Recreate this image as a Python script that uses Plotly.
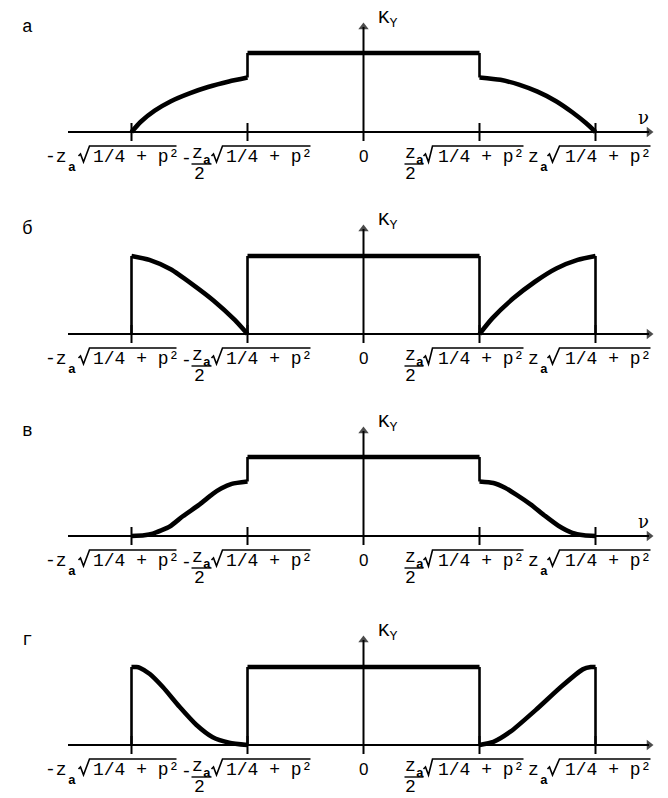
import plotly.graph_objects as go

# ---------------------------------------------------------------------------
# Data: frequency ν in units of z_a·sqrt(1/4 + p²), transfer coefficient K_Y
# normalised to the flat central level.
# ---------------------------------------------------------------------------
NU_TICKS = [-1.0, -0.5, 0.0, 0.5, 1.0]
K_TOP = 1.0
PANEL_LETTERS = ["а", "б", "в", "г"]

# а — convex shoulders with a step at ±0.5
A_LEFT_NU = [-1.0, -0.96, -0.90, -0.83, -0.75, -0.67, -0.58, -0.5]
A_LEFT_K = [0.0, 0.13, 0.27, 0.39, 0.49, 0.57, 0.64, 0.69]
A_RIGHT_NU = [0.5, 0.59, 0.67, 0.75, 0.83, 0.90, 0.96, 1.0]
A_RIGHT_K = [0.69, 0.66, 0.60, 0.51, 0.39, 0.25, 0.11, 0.0]

# б — inverted side lobes
B_LEFT_NU = [-1.0, -0.923, -0.831, -0.739, -0.647, -0.555, -0.5]
B_LEFT_K = [1.0, 0.95, 0.83, 0.64, 0.43, 0.18, 0.0]
B_RIGHT_NU = [0.5, 0.555, 0.647, 0.739, 0.831, 0.923, 1.0]
B_RIGHT_K = [0.0, 0.20, 0.46, 0.67, 0.84, 0.95, 1.0]

# в — S-shaped shoulders with a step at ±0.5
C_LEFT_NU = [-1.0, -0.945, -0.908, -0.835, -0.779, -0.706, -0.651, -0.614, -0.568, -0.5]
C_LEFT_K = [0.0, 0.01, 0.03, 0.12, 0.25, 0.40, 0.53, 0.60, 0.66, 0.69]
C_RIGHT_NU = [0.5, 0.56, 0.61, 0.66, 0.72, 0.78, 0.84, 0.90, 0.95, 1.0]
C_RIGHT_K = [0.69, 0.67, 0.61, 0.52, 0.40, 0.26, 0.13, 0.04, 0.01, 0.0]

# г — S-shaped inverted side lobes
D_LEFT_NU = [-1.0, -0.979, -0.964, -0.921, -0.864, -0.793, -0.721, -0.65, -0.579, -0.5]
D_LEFT_K = [1.0, 1.0, 0.99, 0.91, 0.74, 0.49, 0.26, 0.10, 0.03, 0.0]
D_RIGHT_NU = [0.5, 0.56, 0.633, 0.743, 0.853, 0.945, 0.98, 1.0]
D_RIGHT_K = [0.0, 0.04, 0.17, 0.45, 0.75, 0.97, 1.0, 1.0]

PANELS = [
    (A_LEFT_NU, A_LEFT_K, A_RIGHT_NU, A_RIGHT_K),
    (B_LEFT_NU, B_LEFT_K, B_RIGHT_NU, B_RIGHT_K),
    (C_LEFT_NU, C_LEFT_K, C_RIGHT_NU, C_RIGHT_K),
    (D_LEFT_NU, D_LEFT_K, D_RIGHT_NU, D_RIGHT_K),
]
SHOW_NU_LABEL = [True, False, True, False]

# ---------------------------------------------------------------------------
# Page geometry
# ---------------------------------------------------------------------------
W, H = 668, 798
NU0_PX, UX = 363.5, 232.0          # pixel of ν = 0, pixels per ν unit
AXIS_PX = [132, 334, 536, 745]       # pixel row of each ν axis
UNIT_PX = [79, 78, 79, 78]           # pixels per K unit
BANDS = [(0, 200), (200, 400), (400, 600), (600, 798)]
NU_RANGE = [-NU0_PX / UX, (W - NU0_PX) / UX]
AXIS_START_PX, AXIS_END_PX = 68, 649
ARROW_UP_PX = 105

FONT = "Liberation Mono, DejaVu Sans Mono, monospace"
THICK, THIN, AXW = 4.6, 2.6, 2.0

# tick-label layout: offsets in pixels from the tick (dx) and below the axis (dy)
RADICAND = "1/4 + p²"
LABEL_LAYOUT = {
    -1.0: dict(texts=[("-z", -63, 25, "right", 18), ("<b>a</b>", -60, 35, "center", 13),
                      (RADICAND, -41, 25, "left", 18)],
               rad=(-53, -42, 45), bar=None),
    -0.5: dict(texts=[("-", -61, 27, "center", 18), ("z", -50, 21, "center", 18),
                      ("<b>a</b>", -41, 28, "center", 13), ("2", -48, 42, "center", 18),
                      (RADICAND, -24, 25, "left", 18)],
               rad=(-36, -25, 63), bar=(-56, -36)),
    0.5: dict(texts=[("z", -69, 21, "center", 18), ("<b>a</b>", -60, 28, "center", 13),
                     ("2", -69, 42, "center", 18), (RADICAND, -44, 25, "left", 18)],
              rad=(-56, -47, 44), bar=(-75, -56)),
    1.0: dict(texts=[("z", -55, 25, "right", 18), ("<b>a</b>", -52, 35, "center", 13),
                     (RADICAND, -33, 25, "left", 18)],
              rad=(-48, -36, 55), bar=None),
}

fig = go.Figure()
annotations, shapes = [], []


def line_trace(xs, ys, width, xa, ya, spline=False):
    return go.Scatter(
        x=xs, y=ys, mode="lines", xaxis=xa, yaxis=ya, showlegend=False,
        hoverinfo="skip",
        line=dict(color="black", width=width,
                  shape="spline" if spline else "linear", smoothing=0.6),
    )


def arrow_trace(xs, ys, symbol, xa, ya):
    # axis line ending in a filled triangular head
    return go.Scatter(
        x=xs, y=ys, mode="lines+markers", xaxis=xa, yaxis=ya, showlegend=False,
        hoverinfo="skip", line=dict(color="black", width=AXW),
        marker=dict(symbol=symbol, size=[0, 9], color="black",
                    line=dict(width=0)),
    )


for i, (lnu, lk, rnu, rk) in enumerate(PANELS):
    s = "" if i == 0 else str(i + 1)
    xa, ya = "x" + s, "y" + s
    a_px, u = AXIS_PX[i], UNIT_PX[i]
    p0, p1 = BANDS[i]

    fig.layout["xaxis" + s] = dict(domain=[0, 1], range=NU_RANGE, visible=False,
                                   anchor=ya, fixedrange=True)
    fig.layout["yaxis" + s] = dict(domain=[1 - p1 / H, 1 - p0 / H],
                                   range=[(a_px - p1) / u, (a_px - p0) / u],
                                   visible=False, anchor=xa, fixedrange=True)

    def kpx(dy):  # pixels below the axis -> K units
        return -dy / u

    # ν and K axes with arrows
    fig.add_trace(arrow_trace([(AXIS_START_PX - NU0_PX) / UX, (AXIS_END_PX - NU0_PX) / UX],
                              [0, 0], "triangle-right", xa, ya))
    fig.add_trace(arrow_trace([0, 0], [kpx(9), ARROW_UP_PX / u], "triangle-up", xa, ya))

    # ticks
    for t in NU_TICKS:
        if t == 0:
            continue
        shapes.append(dict(type="line", xref=xa, yref=ya, x0=t, x1=t,
                           y0=kpx(9), y1=kpx(-9),
                           line=dict(color="black", width=AXW)))

    # response curve
    fig.add_trace(line_trace(lnu, lk, THICK, xa, ya, spline=True))
    fig.add_trace(line_trace(rnu, rk, THICK, xa, ya, spline=True))
    fig.add_trace(line_trace([lnu[-1], rnu[0]], [K_TOP, K_TOP], THICK, xa, ya))
    # vertical edges joining the pieces
    for xv, kv in [(lnu[0], lk[0]), (rnu[-1], rk[-1])]:
        if kv > 0:
            fig.add_trace(line_trace([xv, xv], [0, kv], THIN, xa, ya))
    for xv, kv in [(lnu[-1], lk[-1]), (rnu[0], rk[0])]:
        if kv < K_TOP:
            fig.add_trace(line_trace([xv, xv], [kv, K_TOP], THIN, xa, ya))

    # axis captions
    annotations.append(dict(xref=xa, yref=ya, x=0, y=0, xshift=12, yshift=113,
                            xanchor="left", yanchor="middle", showarrow=False,
                            text="K<sub>Y</sub>",
                            font=dict(family=FONT, size=19, color="black")))
    if SHOW_NU_LABEL[i]:
        annotations.append(dict(xref=xa, yref=ya, x=(643 - NU0_PX) / UX, y=0,
                                yshift=15, xanchor="center", yanchor="middle",
                                showarrow=False, text="ν",
                                font=dict(family="DejaVu Serif", size=18,
                                          color="black")))
    annotations.append(dict(xref="paper", yref=ya, x=27 / W, y=0, yshift=105,
                            xanchor="center", yanchor="middle", showarrow=False,
                            text=PANEL_LETTERS[i],
                            font=dict(family=FONT, size=18, color="black")))

    # tick labels
    annotations.append(dict(xref=xa, yref=ya, x=0, y=0, yshift=-24,
                            xanchor="center", yanchor="middle", showarrow=False,
                            text="0",
                            font=dict(family="Liberation Sans", size=17, color="black")))
    for t, spec in LABEL_LAYOUT.items():
        for txt, dx, dy, anc, size in spec["texts"]:
            annotations.append(dict(xref=xa, yref=ya, x=t, y=0, xshift=dx,
                                    yshift=-dy, xanchor=anc, yanchor="middle",
                                    showarrow=False, text=txt,
                                    font=dict(family=FONT, size=size,
                                              color="black")))
        rs, re, oe = spec["rad"]
        pts = [(rs, 24), (rs + 2, 22), (rs + 5, 30), (re, 14), (oe, 14)]
        path = "M " + " L ".join(f"{t + dx / UX:.5f},{kpx(dy):.5f}" for dx, dy in pts)
        shapes.append(dict(type="path", xref=xa, yref=ya, path=path,
                           line=dict(color="black", width=1.6)))
        if spec["bar"]:
            b0, b1 = spec["bar"]
            shapes.append(dict(type="line", xref=xa, yref=ya,
                               x0=t + b0 / UX, x1=t + b1 / UX,
                               y0=kpx(32), y1=kpx(32),
                               line=dict(color="black", width=1.4)))

fig.update_layout(
    width=W, height=H,
    margin=dict(l=0, r=0, t=0, b=0),
    paper_bgcolor="white", plot_bgcolor="white",
    annotations=annotations, shapes=shapes,
    showlegend=False,
)

fig.write_html("out.html")
